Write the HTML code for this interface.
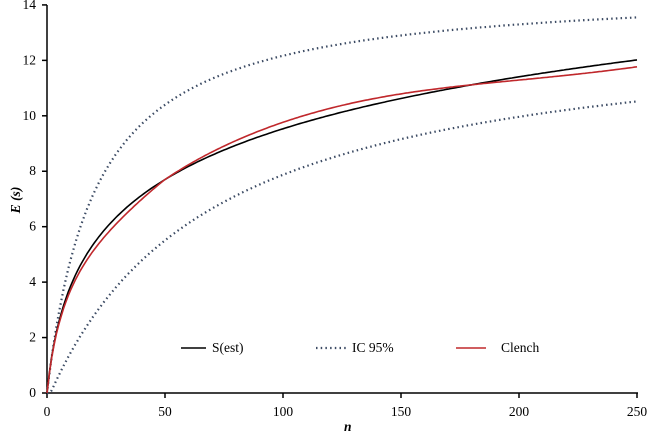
<!DOCTYPE html><html><head><style>body{margin:0;background:#fff}text{font-family:"Liberation Serif",serif;font-size:13.5px}</style></head><body>
<svg width="650" height="437" xmlns="http://www.w3.org/2000/svg" id="s">
<g stroke="#000" stroke-width="1.5">
<line x1="47" y1="393" x2="638" y2="393"/><line x1="47" y1="5" x2="47" y2="393"/>
</g>
<g id="t"></g>
<path id="up" fill="none" stroke="#3b4a63" stroke-width="2.2" stroke-dasharray="1.5 3.2"/>
<path id="lo" fill="none" stroke="#3b4a63" stroke-width="2.2" stroke-dasharray="1.5 3.2"/>
<path id="bk" fill="none" stroke="#000" stroke-width="1.6"/>
<path id="rd" fill="none" stroke="#c0282c" stroke-width="1.6"/>
<line x1="181" y1="348" x2="206" y2="348" stroke="#000" stroke-width="1.6"/>
<text x="212" y="352">S(est)</text>
<line x1="316" y1="348" x2="346" y2="348" stroke="#3b4a63" stroke-width="2.2" stroke-dasharray="1.5 3.2"/>
<text x="352" y="352">IC 95%</text>
<line x1="456" y1="348" x2="486" y2="348" stroke="#c0282c" stroke-width="1.6"/>
<text x="501" y="352">Clench</text>
<text x="344" y="431" font-weight="bold" font-style="italic">n</text>
<text transform="translate(20,200) rotate(-90)" text-anchor="middle" font-weight="bold" font-style="italic">E (s)</text>
</svg>
<script>
const X=n=>47+n*590/250,Y=v=>393-v*27.72;
let t='';for(let i=0;i<=250;i+=50){t+=`<line x1="${X(i)}" y1="393" x2="${X(i)}" y2="398" stroke="#000" stroke-width="1.5"/><text x="${X(i)}" y="416" text-anchor="middle">${i}</text>`}
for(let v=0;v<=14;v+=2){t+=`<line x1="42" y1="${Y(v)}" x2="47" y2="${Y(v)}" stroke="#000" stroke-width="1.5"/><text x="36" y="${Y(v)+4}" text-anchor="end">${v}</text>`}
document.getElementById('t').innerHTML=t;
function p(id,f){let d='';for(let n=0;n<=250;n+=1)d+=(n?'L':'M')+X(n).toFixed(1)+' '+Y(f(n)).toFixed(1);document.getElementById(id).setAttribute('d',d)}
const bk=n=>2.768*Math.log(1+n/3.3);
p('bk',bk);
p('rd',n=>{let d=n<50?-0.25*Math.sin(Math.PI*n/50):0.25*Math.sin(Math.PI*(n-50)/130);return Math.max(0,bk(n)+d)});
p('up',n=>14.66*0.0488*n/(1+0.0488*n));
p('lo',n=>{let m=Math.max(0,n-1.5);return 13.5*0.0142*m/(1+0.0142*m)});
</script></body></html>
